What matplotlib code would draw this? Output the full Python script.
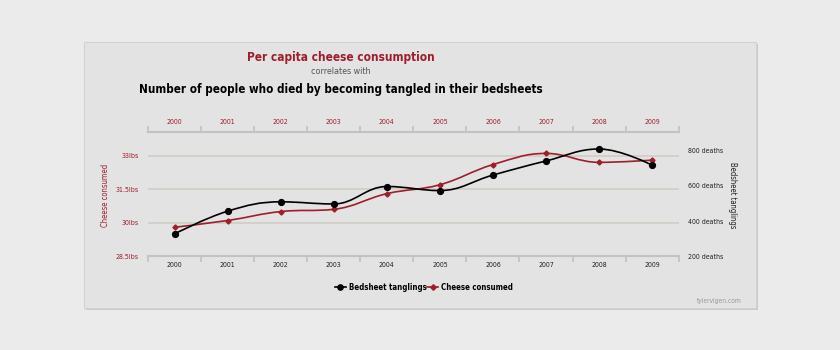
import matplotlib
matplotlib.use("Agg")
import matplotlib.pyplot as plt
from matplotlib.patches import Rectangle, PathPatch
from matplotlib.path import Path
from matplotlib.lines import Line2D

# data
years = [2000, 2001, 2002, 2003, 2004, 2005, 2006, 2007, 2008, 2009]
cheese = [29.8, 30.1, 30.5, 30.6, 31.3, 31.7, 32.6, 33.1, 32.7, 32.8]
deaths = [327, 456, 509, 497, 596, 573, 661, 741, 809, 717]
cheese_ticks = [28.5, 30, 31.5, 33]
cheese_labels = ["28.5lbs", "30lbs", "31.5lbs", "33lbs"]
death_ticks = [200, 400, 600, 800]
death_labels = ["200 deaths", "400 deaths", "600 deaths", "800 deaths"]

RED = "#9e1e2b"
FONT = ["DejaVu Sans"]
W, H = 840, 350


def px(x, y):
    # figure pixel coords (origin top-left) -> figure fraction
    return x / W, 1 - y / H


def spline_path(xs, ys, smoothing=1.5):
    # highcharts style spline, built as cubic bezier segments
    n = len(xs)
    denom = smoothing + 1
    left = [(xs[i], ys[i]) for i in range(n)]
    right = [(xs[i], ys[i]) for i in range(n)]
    for i in range(1, n - 1):
        x, y = xs[i], ys[i]
        lx, ly = xs[i - 1], ys[i - 1]
        nx_, ny = xs[i + 1], ys[i + 1]
        lcx = (smoothing * x + lx) / denom
        lcy = (smoothing * y + ly) / denom
        rcx = (smoothing * x + nx_) / denom
        rcy = (smoothing * y + ny) / denom
        corr = (rcy - lcy) * (rcx - x) / (rcx - lcx) + y - rcy
        lcy += corr
        rcy += corr
        if lcy > ly and lcy > y:
            lcy = max(ly, y)
            rcy = 2 * y - lcy
        elif lcy < ly and lcy < y:
            lcy = min(ly, y)
            rcy = 2 * y - lcy
        if rcy > ny and rcy > y:
            rcy = max(ny, y)
            lcy = 2 * y - rcy
        elif rcy < ny and rcy < y:
            rcy = min(ny, y)
            lcy = 2 * y - rcy
        left[i] = (lcx, lcy)
        right[i] = (rcx, rcy)
    verts = [(xs[0], ys[0])]
    codes = [Path.MOVETO]
    for i in range(1, n):
        verts += [right[i - 1], left[i], (xs[i], ys[i])]
        codes += [Path.CURVE4] * 3
    return Path(verts, codes)


plt.rcParams["font.family"] = FONT
plt.rcParams["font.stretch"] = "condensed"

fig = plt.figure(figsize=(8.4, 3.5), dpi=100)
fig.patch.set_facecolor("#ebebeb")

# card with shadow
x0, y0 = px(86, 310)
x1, y1 = px(758, 44)
fig.patches.append(Rectangle((x0, y0), x1 - x0, y1 - y0, transform=fig.transFigure,
                             facecolor="#c9c9c9", edgecolor="none", zorder=-3))
x0, y0 = px(84, 308)
x1, y1 = px(756, 42)
fig.patches.append(Rectangle((x0, y0), x1 - x0, y1 - y0, transform=fig.transFigure,
                             facecolor="#e3e3e3", edgecolor="#d2d2d2", lw=0.8, zorder=-2))

ax_l, ax_b = px(148, 256.3)
ax_r, ax_t = px(678.7, 131.7)
ax = fig.add_axes([ax_l, ax_b, ax_r - ax_l, ax_t - ax_b])
ax.set_facecolor("none")
ax.set_xlim(1999.5, 2009.5)
ax.set_ylim(28.5, 34.07)
ax.set_axisbelow(True)

spine_c = "#c2c2c2"
tick_fs = 5.05
for s in ["left", "right", "top"]:
    ax.spines[s].set_visible(False)
ax.spines["bottom"].set_color(spine_c)
ax.spines["bottom"].set_linewidth(1.5)

bounds = [y - 0.5 for y in years] + [years[-1] + 0.5]
ax.set_xticks(years)
ax.set_xticks(bounds, minor=True)
ax.tick_params(axis="x", which="major", length=0, labelsize=tick_fs, pad=4.2, labelcolor="#222222")
ax.tick_params(axis="x", which="minor", length=4, width=1.2, color=spine_c, direction="out")

top = ax.secondary_xaxis("top")
top.set_xticks(years)
top.set_xticks(bounds, minor=True)
top.spines["top"].set_color(spine_c)
top.spines["top"].set_linewidth(1.5)
top.tick_params(axis="x", which="major", length=0, labelsize=tick_fs, pad=4.6, labelcolor=RED)
top.tick_params(axis="x", which="minor", length=4, width=1.2, color=spine_c, direction="out")

ax.set_yticks(cheese_ticks, cheese_labels)
ax.tick_params(axis="y", length=0, labelsize=tick_fs, pad=6.7, labelcolor=RED)
ax.yaxis.grid(True, color="#cfcbc2", lw=1.1)

ax2 = ax.twinx()
ax2.set_ylim(200, 907)
for s in ax2.spines.values():
    s.set_visible(False)
ax2.set_yticks(death_ticks, death_labels)
ax2.tick_params(axis="y", length=0, labelsize=tick_fs, pad=6.5, labelcolor="#222222")

# lines
ax.add_patch(PathPatch(spline_path(years, cheese), fill=False, edgecolor=RED, lw=1.2, zorder=3))
ax.plot(years, cheese, ls="none", marker="D", ms=2.6, color=RED, zorder=4)
ax2.add_patch(PathPatch(spline_path(years, deaths), fill=False, edgecolor="black", lw=1.2, zorder=3))
ax2.plot(years, deaths, ls="none", marker="o", ms=4.2, color="black", zorder=4)

# titles
fig.text(*px(341, 57), "Per capita cheese consumption", ha="center", va="center",
         fontsize=8.5, fontweight="bold", color=RED)
fig.text(*px(341, 72), "correlates with", ha="center", va="center",
         fontsize=6.4, color="#555555")
fig.text(*px(341, 89), "Number of people who died by becoming tangled in their bedsheets",
         ha="center", va="center", fontsize=8.4, fontweight="bold", color="black")

# axis titles
fig.text(*px(106, 195), "Cheese consumed", rotation=90, ha="center", va="center",
         fontsize=5.5, color=RED)
fig.text(*px(733, 195), "Bedsheet tanglings", rotation=270, ha="center", va="center",
         fontsize=5.5, color="#222222")

# legend
handles = [
    Line2D([], [], color="black", lw=1.2, marker="o", ms=3.8),
    Line2D([], [], color=RED, lw=1.2, marker="D", ms=2.8),
]
fig.legend(handles, ["Bedsheet tanglings", "Cheese consumed"], loc="center",
           bbox_to_anchor=px(424, 287), ncol=2, frameon=False,
           prop={"size": 5.7, "weight": "bold"}, handlelength=1.4,
           handletextpad=0.35, columnspacing=0.1)

fig.text(*px(741.7, 301), "tylervigen.com", ha="right", va="center",
         fontsize=4.8, color="#999999")

fig.savefig("out.png", dpi=100, facecolor=fig.get_facecolor())
